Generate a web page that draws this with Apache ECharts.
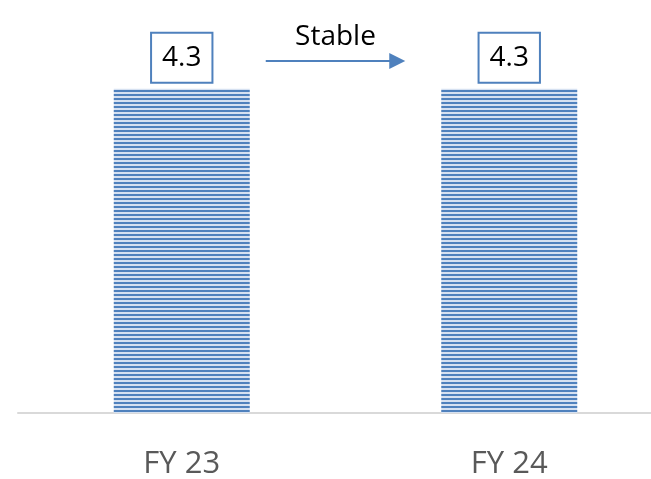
<!DOCTYPE html>
<html>
<head>
<meta charset="utf-8">
<script src="https://cdn.jsdelivr.net/npm/echarts@6/dist/echarts.min.js"></script>
<style>
  html, body { margin: 0; padding: 0; background: #ffffff; }
  #chart { width: 651px; height: 479px; }
</style>
</head>
<body>
<div id="chart"></div>
<script>
// Fiscal years and their values
const categories = ['FY 23', 'FY 24'];
const values = [4.3, 4.3];
const trendText = 'Stable';

// Horizontal stripe fill for the bars
function stripePattern() {
  const c = document.createElement('canvas');
  c.width = 8;
  c.height = 4;
  const ctx = c.getContext('2d');
  ctx.fillStyle = '#d6e1f1';
  ctx.fillRect(0, 0, 8, 4);
  ctx.fillStyle = '#4f81bd';
  ctx.fillRect(0, 2, 8, 2);
  return c;
}

const blue = '#4f81bd';
const chart = echarts.init(document.getElementById('chart'), null, { renderer: 'canvas' });

chart.setOption({
  animation: false,
  grid: { left: 18, width: 655, top: 36, bottom: 66, outerBoundsMode: 'none', containLabel: false },
  xAxis: {
    type: 'category',
    data: categories,
    axisLine: { show: true, lineStyle: { color: '#d9d9d9', width: 2 } },
    axisTick: { show: false },
    axisLabel: { color: '#595959', fontSize: 31, fontFamily: 'Open Sans', margin: 36 }
  },
  yAxis: {
    type: 'value',
    min: 0,
    max: 5,
    show: false,
    splitLine: { show: false }
  },
  series: [{
    type: 'bar',
    data: values,
    barWidth: 136,
    itemStyle: { color: { image: stripePattern(), repeat: 'repeat' } },
    label: {
      show: true,
      position: 'top',
      distance: 7,
      color: '#000000',
      fontSize: 28,
      fontFamily: 'Open Sans',
      lineHeight: 28,
      backgroundColor: '#ffffff',
      borderColor: blue,
      borderWidth: 2,
      padding: [10, 10, 10, 10],
      formatter: p => p.value.toFixed(1)
    }
  }]
});

// Trend arrow between the two bars, placed from the category positions
const p0 = chart.convertToPixel({ xAxisIndex: 0, yAxisIndex: 0 }, [0, values[0]]);
const p1 = chart.convertToPixel({ xAxisIndex: 0, yAxisIndex: 0 }, [1, values[1]]);
const x0 = p0[0] + 84;
const x1 = p1[0] - 104;
const ay = 61;
chart.setOption({
  graphic: [
    {
      type: 'line',
      shape: { x1: x0, y1: ay, x2: x1 - 14, y2: ay },
      style: { stroke: blue, lineWidth: 2 }
    },
    {
      type: 'polygon',
      shape: { points: [[x1 - 16, ay - 8], [x1, ay], [x1 - 16, ay + 8]] },
      style: { fill: blue }
    },
    {
      type: 'text',
      x: (x0 + x1) / 2,
      y: 37,
      style: {
        text: trendText,
        fill: '#000000',
        fontSize: 28,
        fontFamily: 'Open Sans',
        align: 'center',
        verticalAlign: 'middle'
      }
    }
  ]
});
</script>
</body>
</html>
